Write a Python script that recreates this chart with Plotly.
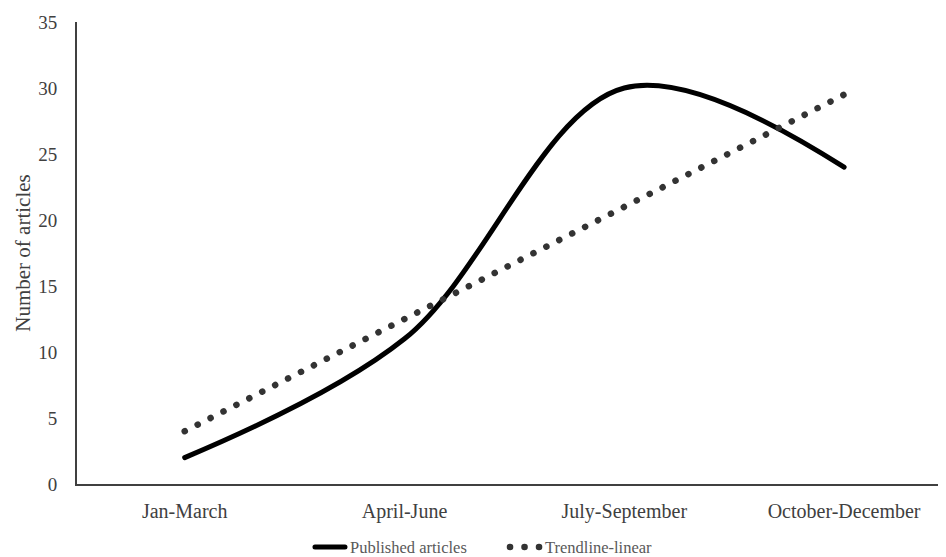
import plotly.graph_objects as go

quarters = ["Jan-March", "April-June", "July-September", "October-December"]
published = [2, 11, 30, 24]
trendline = [4, 12.5, 21, 29.5]

FONT = "Liberation Serif"

fig = go.Figure()
fig.add_trace(go.Scatter(
    x=quarters, y=published, mode="lines", name="Published articles",
    line=dict(color="black", width=5, shape="spline", smoothing=1.0),
))
fig.add_trace(go.Scatter(
    x=quarters, y=trendline, mode="lines", name="Trendline-linear",
    line=dict(color="#333333", width=6.5, dash="0.1px,14.4px"),
))

fig.update_layout(
    width=946, height=557,
    margin=dict(l=69, r=0, t=14, b=81),
    paper_bgcolor="white", plot_bgcolor="white",
    font=dict(family=FONT, size=19, color="#404040"),
    showlegend=True,
    legend=dict(orientation="h", x=0.488, xanchor="center", xref="paper",
                y=0.032, yanchor="middle", yref="container",
                font=dict(family=FONT, size=16.5, color="#595959"),
                entrywidth=150),
    xaxis=dict(range=[-0.49, 3.5], showline=True, linecolor="#404040", linewidth=2,
               showgrid=False, ticks="", zeroline=False, automargin=False,
               ticklabelstandoff=8,
               tickfont=dict(size=20, color="#404040")),
    yaxis=dict(range=[0, 35], dtick=5, showline=True, linecolor="#404040", linewidth=2,
               showgrid=False, ticks="", zeroline=False, automargin=False,
               ticklabelstandoff=14,
               title=dict(text="Number of articles", font=dict(size=21, color="#404040"), standoff=2),
               tickfont=dict(size=19, color="#404040")),
)

post = """
var gd = document.getElementById('{plot_id}');
function roundCaps(){
  var ps = gd.querySelectorAll('.scatterlayer path.js-line, .legend .legendlines path');
  ps.forEach(function(p){ p.style.strokeLinecap = 'round'; });
}
roundCaps();
gd.on('plotly_afterplot', roundCaps);
"""

fig.write_html("out.html", post_script=post)
